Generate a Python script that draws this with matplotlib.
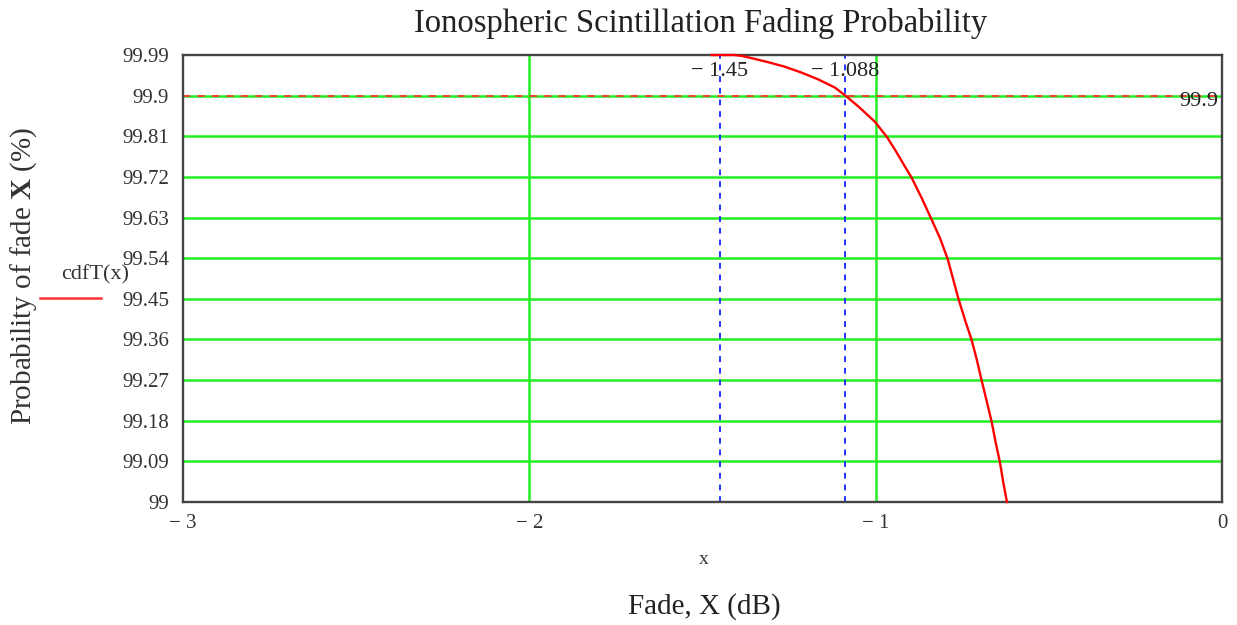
import matplotlib
matplotlib.use("Agg")
import matplotlib.pyplot as plt
from matplotlib.ticker import FixedLocator, FuncFormatter
from matplotlib.transforms import offset_copy

plt.rcParams['font.family'] = ['Liberation Serif', 'DejaVu Serif']
plt.rcParams['mathtext.fontset'] = 'custom'
plt.rcParams['mathtext.rm'] = 'Liberation Serif'
plt.rcParams['mathtext.bf'] = 'Liberation Serif:bold'

# Data
fade_x = [-1.474, -1.408, -1.387, -1.358, -1.310, -1.262, -1.214, -1.166, -1.118,
          -1.089, -1.050, -1.002, -0.968, -0.944, -0.921, -0.896, -0.867, -0.840,
          -0.814, -0.792, -0.761, -0.742, -0.723, -0.708, -0.694, -0.679, -0.665,
          -0.653, -0.641, -0.631, -0.621]
cdf_pct = [99.990, 99.990, 99.988, 99.983, 99.974, 99.964, 99.951, 99.936, 99.918,
           99.901, 99.876, 99.842, 99.809, 99.780, 99.750, 99.718, 99.673, 99.628,
           99.584, 99.538, 99.450, 99.403, 99.359, 99.315, 99.269, 99.222, 99.177,
           99.130, 99.087, 99.041, 99.000]
y_ticks = [99, 99.09, 99.18, 99.27, 99.36, 99.45, 99.54, 99.63, 99.72, 99.81, 99.9, 99.99]
x_ticks = [-3, -2, -1, 0]
marker_x = [-1.45, -1.088]
marker_labels = ["\u2212 1.45", "\u2212 1.088"]
threshold = 99.9
threshold_label = "99.9"

fig = plt.figure(figsize=(12.37, 6.25), dpi=100)
ax = fig.add_axes([0.1479, 0.1968, 0.9879 - 0.1479, 0.912 - 0.1968])
ax.set_xlim(-3, 0)
ax.set_ylim(99, 99.99)

green = '#22ee22'
for yv in y_ticks[1:-1]:
    ax.axhline(yv, color=green, lw=1.8, zorder=1)
for xv in x_ticks[1:-1]:
    ax.axvline(xv, color=green, lw=1.8, zorder=1)

ax.axhline(threshold, color='#ff3333', lw=1.3, ls=(0, (4, 4)), zorder=2)
for xv in marker_x:
    ax.axvline(xv, color='#2233ff', lw=1.4, ls=(0, (3, 3)), zorder=2)

ax.plot(fade_x, cdf_pct, color='#ff0000', lw=1.7, zorder=3, clip_on=False)

for xv, lab in zip(marker_x, marker_labels):
    ax.text(xv, 99.975, lab, ha='center', va='top', fontsize=16, color='#222222')
lab_tr = offset_copy(ax.transData, fig=fig, x=0, y=-4, units='points')
ax.text(-0.01, threshold, threshold_label, ha='right', va='center', fontsize=16,
        color='#222222', transform=lab_tr)

ax.xaxis.set_major_locator(FixedLocator(x_ticks))
ax.yaxis.set_major_locator(FixedLocator(y_ticks))
ax.xaxis.set_major_formatter(FuncFormatter(lambda v, p: ("\u2212 %d" % abs(round(v))) if v < 0 else "%d" % round(v)))
ax.yaxis.set_major_formatter(FuncFormatter(lambda v, p: ("%.2f" % v).rstrip('0').rstrip('.')))
ax.tick_params(axis='both', length=0, labelsize=15, labelcolor='#333333')
ax.tick_params(axis='x', pad=9)
ax.tick_params(axis='y', pad=10)

for s in ax.spines.values():
    s.set_color('#444444')
    s.set_linewidth(1.7)

fig.text(0.566, 0.963, "Ionospheric Scintillation Fading Probability", ha='center', va='center',
         fontsize=23.5, color='#222222')
fig.text(0.569, 0.104, "x", ha='center', va='center', fontsize=14, color='#333333')
fig.text(0.569, 0.030, "Fade, X (dB)", ha='center', va='center', fontsize=21, color='#222222')
fig.text(0.019, 0.558, r"Probability of fade $\mathbf{X}$ (%)", ha='center', va='center',
         rotation=90, fontsize=21, color='#333333')

fig.text(0.0768, 0.56, "cdfT(x)", ha='center', va='center', fontsize=16, color='#333333')
fig.add_artist(matplotlib.lines.Line2D([0.032, 0.082], [0.524, 0.524], color='#ff3333', lw=1.8,
                                       transform=fig.transFigure))

fig.savefig("out.png", dpi=100)
